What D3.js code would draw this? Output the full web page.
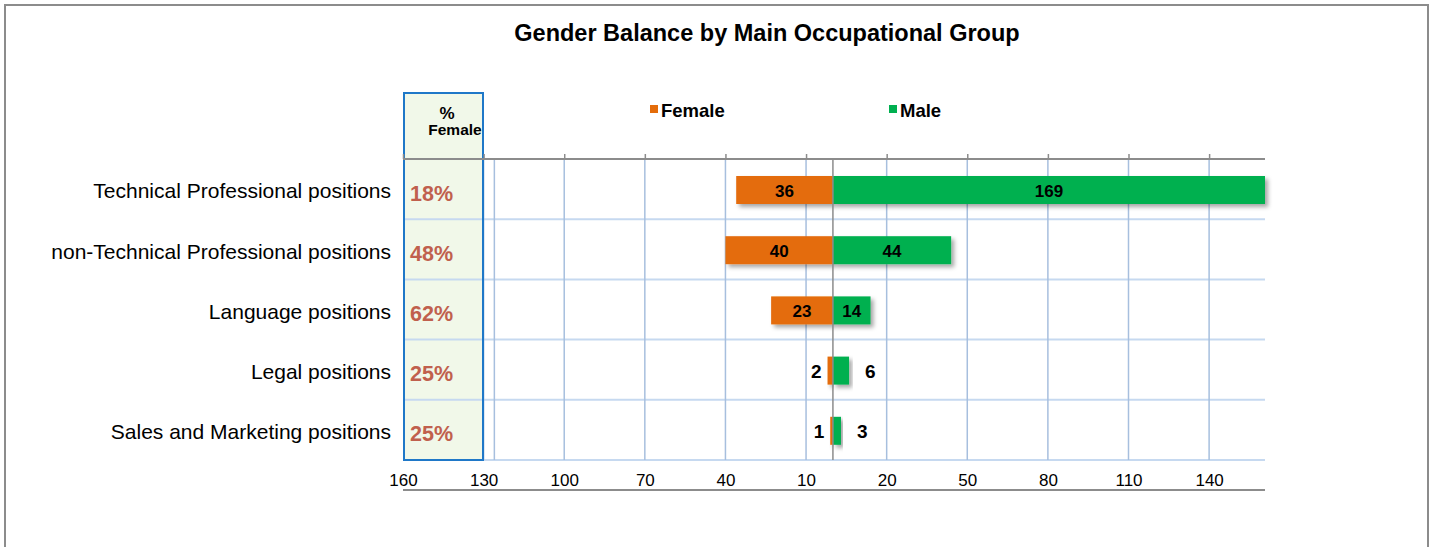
<!DOCTYPE html>
<html>
<head>
<meta charset="utf-8">
<script src="https://cdn.jsdelivr.net/npm/d3@7/dist/d3.min.js"></script>
<style>
	body { margin: 0; background: #fff; }
	text { font-family: Arial, "Liberation Sans", sans-serif; }
</style>
</head>
<body>
<svg></svg>
<script>
/************* Gender balance butterfly chart *************/

var categories = ['Technical Professional positions', 'non-Technical Professional positions',
	'Language positions', 'Legal positions', 'Sales and Marketing positions'];
var female = [36, 40, 23, 2, 1];
var male = [169, 44, 14, 6, 3];
var tickValues = [-160, -130, -100, -70, -40, -10, 20, 50, 80, 110, 140];
var extraGrid = [-126];

var colors = { female: '#E46C0A', male: '#00B050' };

var svg = d3.select('svg')
	.attr('width', 1431)
	.attr('height', 547);

var defs = svg.append('defs');
var shadow = defs.append('filter').attr('id', 'shadow')
	.attr('x', '-10%').attr('y', '-20%').attr('width', '130%').attr('height', '160%');
shadow.append('feDropShadow')
	.attr('dx', 3).attr('dy', 3).attr('stdDeviation', 2)
	.attr('flood-color', '#000').attr('flood-opacity', 0.35);

// outer frame
svg.append('rect')
	.attr('x', 5).attr('y', 5).attr('width', 1423).attr('height', 560)
	.attr('fill', '#fff').attr('stroke', '#8c8c8c').attr('stroke-width', 2);

var pLeft = 403, pRight = 1265, pTop = 159, pBottom = 460;

var x = d3.scaleLinear().domain([-160, 160.8]).range([pLeft, pRight]);
var y = d3.scaleBand().domain(categories).range([pTop, pBottom]);

var g = svg.append('g');

// % Female box
g.append('rect')
	.attr('x', 404).attr('y', 93).attr('width', 79).attr('height', pBottom - 93)
	.attr('fill', '#f1f8e9').attr('stroke', '#1f78c8').attr('stroke-width', 2);

// gridlines
g.selectAll('.hgrid')
	.data(categories)
	.enter().append('line')
	.attr('x1', pLeft).attr('x2', pRight)
	.attr('y1', function (d) { return y(d) + y.bandwidth(); })
	.attr('y2', function (d) { return y(d) + y.bandwidth(); })
	.attr('stroke', '#c6d9f0').attr('stroke-width', 2);

g.selectAll('.vgrid')
	.data(tickValues.filter(function (d) { return d > -160; }).concat(extraGrid))
	.enter().append('line')
	.attr('x1', function (d) { return x(d); }).attr('x2', function (d) { return x(d); })
	.attr('y1', pTop).attr('y2', pBottom)
	.attr('stroke', '#a7bfde').attr('stroke-width', 1.5);

// redraw box border over the gridline
g.append('rect')
	.attr('x', 404).attr('y', 93).attr('width', 79).attr('height', pBottom - 93)
	.attr('fill', 'none').attr('stroke', '#1f78c8').attr('stroke-width', 2);

// top axis (ticks only)
var topAxis = g.append('g')
	.attr('transform', 'translate(0,' + pTop + ')')
	.call(d3.axisTop(x).tickValues(tickValues).tickSize(5).tickFormat(''));
topAxis.select('.domain').attr('stroke', '#8c8c8c').attr('stroke-width', 2)
	.attr('d', 'M' + pLeft + ',0H' + pRight);
topAxis.selectAll('.tick line').attr('stroke', '#8c8c8c').attr('stroke-width', 1.5);

// bottom labels
var botAxis = g.append('g')
	.attr('transform', 'translate(0,490)')
	.call(d3.axisBottom(x).tickValues(tickValues).tickSize(0)
		.tickFormat(function (d) { return Math.abs(d); }));
botAxis.select('.domain').attr('stroke', '#8c8c8c').attr('stroke-width', 2)
	.attr('d', 'M' + pLeft + ',0H' + pRight);
botAxis.selectAll('text')
	.attr('y', -10).attr('dy', '0.35em')
	.attr('font-size', 17).attr('fill', '#000')
	.style('font-family', 'Arial, "Liberation Sans", sans-serif');

// bars
var clipW = x(160.8);
var bars = g.append('g');
bars.selectAll('.fbar').data(female).enter().append('rect')
	.attr('x', function (d) { return x(-d); })
	.attr('y', function (d, i) { return y(categories[i]) + 17; })
	.attr('width', function (d) { return x(0) - x(-d); })
	.attr('height', 28)
	.attr('fill', colors.female)
	.attr('filter', 'url(#shadow)');
bars.selectAll('.mbar').data(male).enter().append('rect')
	.attr('x', x(0))
	.attr('y', function (d, i) { return y(categories[i]) + 17; })
	.attr('width', function (d) { return Math.min(x(d), clipW) - x(0); })
	.attr('height', 28)
	.attr('fill', colors.male)
	.attr('filter', 'url(#shadow)');

// zero line
g.append('line')
	.attr('x1', x(0)).attr('x2', x(0)).attr('y1', pTop).attr('y2', pBottom)
	.attr('stroke', '#8c8c8c').attr('stroke-width', 1.5);

// value labels
var inside = function (d) { return d >= 10; };
g.selectAll('.flab').data(female).enter().append('text')
	.attr('x', function (d) { return inside(d) ? (x(-d) + x(0)) / 2 : x(-d) - 6; })
	.attr('y', function (d, i) { return y(categories[i]) + 32; })
	.attr('dy', '0.35em')
	.attr('text-anchor', function (d) { return inside(d) ? 'middle' : 'end'; })
	.attr('font-size', function (d) { return inside(d) ? 17 : 19; })
	.attr('font-weight', 'bold')
	.text(function (d) { return d; });
g.selectAll('.mlab').data(male).enter().append('text')
	.attr('x', function (d) { return inside(d) ? (x(0) + Math.min(x(d), clipW)) / 2 : x(d) + 16; })
	.attr('y', function (d, i) { return y(categories[i]) + 32; })
	.attr('dy', '0.35em')
	.attr('text-anchor', function (d) { return inside(d) ? 'middle' : 'start'; })
	.attr('font-size', function (d) { return inside(d) ? 17 : 19; })
	.attr('font-weight', 'bold')
	.text(function (d) { return d; });

// category labels
g.selectAll('.cat').data(categories).enter().append('text')
	.attr('x', 391)
	.attr('y', function (d) { return y(d) + y.bandwidth() / 2 + 2; })
	.attr('dy', '0.35em')
	.attr('text-anchor', 'end')
	.attr('font-size', 21)
	.text(function (d) { return d; });

// percent female
var pct = d3.format('.0%');
g.selectAll('.pct').data(female).enter().append('text')
	.attr('x', 410)
	.attr('y', function (d, i) { return y(categories[i]) + y.bandwidth() / 2 + 4; })
	.attr('dy', '0.35em')
	.attr('font-size', 21.5)
	.attr('font-weight', 'bold')
	.attr('fill', '#c0604d')
	.text(function (d, i) { return pct(d / (d + male[i])); });

// box header
g.append('text').attr('x', 447).attr('y', 113).attr('dy', '0.35em')
	.attr('text-anchor', 'middle').attr('font-size', 17).attr('font-weight', 'bold').text('%');
g.append('text').attr('x', 455).attr('y', 130).attr('dy', '0.35em')
	.attr('text-anchor', 'middle').attr('font-size', 15.5).attr('font-weight', 'bold').text('Female');

// title
svg.append('text')
	.attr('x', 767).attr('y', 33).attr('dy', '0.35em')
	.attr('text-anchor', 'middle')
	.attr('font-size', 23.5).attr('font-weight', 'bold')
	.text('Gender Balance by Main Occupational Group');

// legend
var legend = svg.selectAll('.legend')
	.data([{ name: 'Female', c: colors.female, x: 650 }, { name: 'Male', c: colors.male, x: 889 }])
	.enter().append('g')
	.attr('transform', function (d) { return 'translate(' + d.x + ',105)'; });
legend.append('rect').attr('width', 8).attr('height', 8).attr('fill', function (d) { return d.c; });
legend.append('text').attr('x', 11).attr('y', 6).attr('dy', '0.35em')
	.attr('font-size', 18.5).attr('font-weight', 'bold')
	.text(function (d) { return d.name; });
</script>
</body>
</html>
